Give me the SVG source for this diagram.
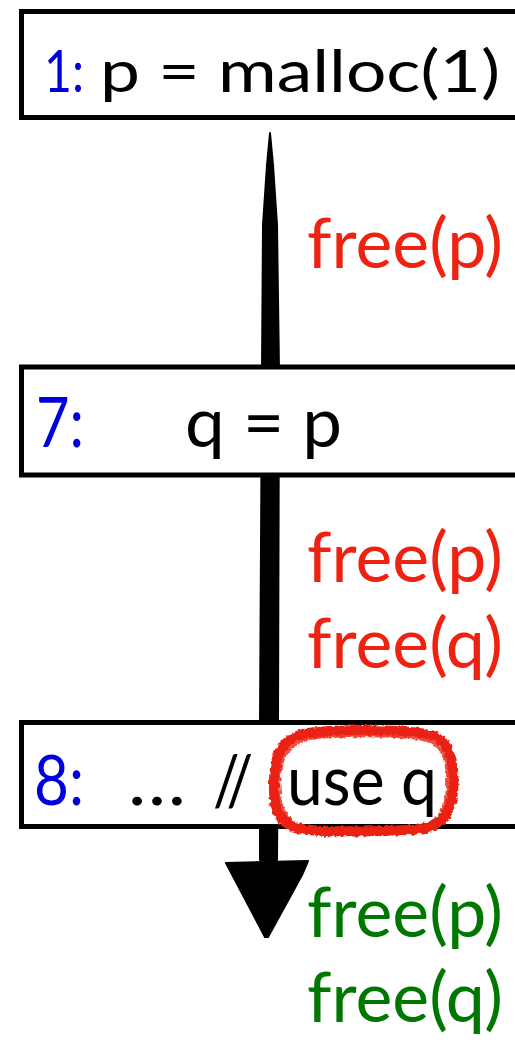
<svg xmlns="http://www.w3.org/2000/svg" width="515" height="1044" viewBox="0 0 515 1044">
  <defs>
    <filter id="rough" x="-10%" y="-10%" width="120%" height="120%">
      <feTurbulence type="fractalNoise" baseFrequency="0.25" numOctaves="2" seed="3" result="n"/>
      <feDisplacementMap in="SourceGraphic" in2="n" scale="5" xChannelSelector="R" yChannelSelector="G"/>
    </filter>
  </defs>
  <style>
    .box { fill: #ffffff; stroke: #000000; stroke-width: 5; }
    .t { font-family: Lato, "Open Sans", "Liberation Sans", sans-serif; }
    .blue { fill: #0000dd; }
    .code { fill: #000000; }
    .red { fill: #ee2211; }
    .green { fill: #007700; }
    .arrow { fill: #000000; stroke: #000000; stroke-width: 2; stroke-linejoin: round; }
    .mark { fill: none; stroke: #ea2212; stroke-linejoin: round; stroke-linecap: round; }
  </style>

  <g id="connectors">
    <path class="arrow" d="M270,133 L273,165 L277,225 L279,370 L278,722 L277,860 L260,860 L260,722 L262,370 L263,225 L267,165 Z"/>
    <path class="arrow" d="M226,863 L308,861 L302,875 L268,937 L265,937 Z"/>
  </g>

  <g id="node1">
    <rect class="box" x="21.5" y="11.5" width="520" height="106"/>
    <text class="t blue" x="44" y="92" font-size="58" textLength="40" lengthAdjust="spacingAndGlyphs">1:</text>
    <text class="t code" x="100" y="92" font-size="58" textLength="400" lengthAdjust="spacingAndGlyphs">p = malloc(1)</text>
  </g>

  <g id="label-free-p-1">
    <text class="t red" x="307" y="268" font-size="70" textLength="196" lengthAdjust="spacingAndGlyphs">free(p)</text>
  </g>

  <g id="node7">
    <rect class="box" x="21.5" y="367" width="520" height="108"/>
    <text class="t blue" x="36" y="447" font-size="70" textLength="48" lengthAdjust="spacingAndGlyphs">7:</text>
    <text class="t code" x="185" y="447" font-size="70" textLength="157" lengthAdjust="spacingAndGlyphs">q = p</text>
  </g>

  <g id="label-free-2">
    <text class="t red" x="307" y="582" font-size="70" textLength="196" lengthAdjust="spacingAndGlyphs">free(p)</text>
    <text class="t red" x="307" y="668" font-size="70" textLength="196" lengthAdjust="spacingAndGlyphs">free(q)</text>
  </g>

  <g id="node8">
    <rect class="box" x="21.5" y="722.5" width="520" height="104"/>
    <text class="t blue" x="34" y="805" font-size="70" textLength="50" lengthAdjust="spacingAndGlyphs">8:</text>
    <text class="t code" y="805" font-size="70"><tspan x="128" textLength="58" lengthAdjust="spacingAndGlyphs">…</tspan><tspan x="213" textLength="40" lengthAdjust="spacingAndGlyphs">//</tspan><tspan x="287" textLength="150" lengthAdjust="spacingAndGlyphs">use q</tspan></text>
  </g>

  <g id="highlight" filter="url(#rough)">
    <path class="mark" stroke-width="10" d="M318,732 C350,729 420,729 436,737 C452,745 455,771 453,791 C451,816 440,829 410,830 C370,832 320,832 300,829 C278,825 273,806 274,783 C274,756 280,734 318,732 Z"/>
    <path class="mark" stroke-width="3" opacity="0.8" d="M322,737 C360,735 415,735 432,742 C447,750 449,774 447,794 C445,814 436,826 408,827 C370,829 325,829 304,826 C284,822 279,805 279,784 C279,760 285,739 322,737 Z"/>
  </g>

  <g id="label-free-3">
    <text class="t green" x="307" y="937" font-size="70" textLength="196" lengthAdjust="spacingAndGlyphs">free(p)</text>
    <text class="t green" x="307" y="1022" font-size="70" textLength="196" lengthAdjust="spacingAndGlyphs">free(q)</text>
  </g>
</svg>
